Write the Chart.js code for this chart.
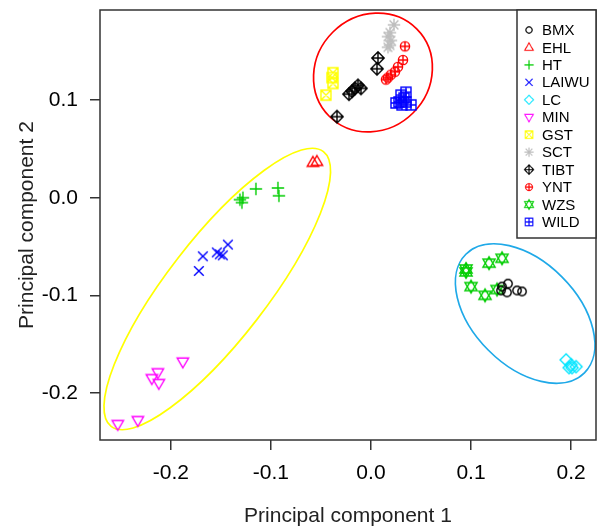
<!DOCTYPE html>
<html><head><meta charset="utf-8">
<script src="https://cdn.jsdelivr.net/npm/chart.js@4.4.0/dist/chart.umd.min.js"></script>
<style>html,body{margin:0;padding:0;background:#fff;}</style>
</head><body>
<canvas id="c" width="602" height="531"></canvas>
<script>
// ---- data ----
const xTicks = [-0.2, -0.1, 0.0, 0.1, 0.2];
const yTicks = [-0.2, -0.1, 0.0, 0.1];
const groups = ['BMX','EHL','HT','LAIWU','LC','MIN','GST','SCT','TIBT','YNT','WZS','WILD'];
const BMX   = [[0.131,-0.091],[0.137,-0.088],[0.136,-0.097],[0.146,-0.095],[0.151,-0.096],[0.130,-0.095]];
const EHL   = [[-0.058,0.036],[-0.054,0.037]];
const HT    = [[-0.131,-0.002],[-0.128,0.000],[-0.129,-0.005],[-0.115,0.009],[-0.093,0.010],[-0.092,0.002]];
const LAIWU = [[-0.143,-0.048],[-0.154,-0.056],[-0.151,-0.058],[-0.148,-0.059],[-0.168,-0.060],[-0.172,-0.075]];
const LC    = [[0.195,-0.166],[0.200,-0.171],[0.205,-0.173],[0.201,-0.174],[0.198,-0.174]];
const MIN   = [[-0.188,-0.168],[-0.213,-0.179],[-0.219,-0.185],[-0.212,-0.190],[-0.233,-0.228],[-0.253,-0.232]];
const GST   = [[-0.038,0.128],[-0.039,0.123],[-0.038,0.117],[-0.045,0.105]];
const SCT   = [[0.023,0.177],[0.019,0.169],[0.017,0.165],[0.020,0.161],[0.019,0.156],[0.017,0.154]];
const TIBT  = [[0.007,0.143],[0.006,0.132],[-0.013,0.115],[-0.016,0.112],[-0.019,0.109],[-0.022,0.106],[-0.034,0.083],[-0.010,0.112]];
const YNT   = [[0.034,0.155],[0.032,0.141],[0.027,0.134],[0.024,0.129],[0.020,0.126],[0.017,0.123],[0.015,0.121]];
const WZS   = [[0.095,-0.076],[0.095,-0.073],[0.118,-0.067],[0.131,-0.062],[0.100,-0.091],[0.114,-0.100],[0.126,-0.094]];
const WILD  = [[0.035,0.108],[0.030,0.105],[0.033,0.102],[0.028,0.098],[0.025,0.097],[0.035,0.098],[0.040,0.095],[0.031,0.095]];
const seriesValues = [BMX,EHL,HT,LAIWU,LC,MIN,GST,SCT,TIBT,YNT,WZS,WILD];

// ---- styles ----
const markerTypes = ['circle','triUp','plus','cross','diamond','triDown','boxX','aster','diamondPlus','circlePlus','star6','boxPlus'];
const markerColors = ['#000000','#FF0000','#00CD00','#0000FF','#00E5FF','#FF00FF','#FFFF00','#BEBEBE','#000000','#FF0000','#00CD00','#0000FF'];
const ellipseDefs = [
  {cx:0.002,  cy:0.1282,  a:0.0618, b:0.0569, angle:45,   color:'#FF0000'},
  {cx:0.1541, cy:-0.1186, a:0.0838, b:0.0519, angle:-45,  color:'#1FA9E8'},
  {cx:-0.1536,cy:-0.0935, a:0.1735, b:0.0500, angle:52.3, color:'#FFFF00'}
];

function marker(type, color){
  const s = 20, c = document.createElement('canvas');
  c.width = s; c.height = s;
  const g = c.getContext('2d');
  g.strokeStyle = color; g.lineWidth = 1.4; g.translate(s/2, s/2);
  g.beginPath();
  const plus = r => { g.moveTo(-r,0); g.lineTo(r,0); g.moveTo(0,-r); g.lineTo(0,r); };
  const cross = r => { g.moveTo(-r,-r); g.lineTo(r,r); g.moveTo(r,-r); g.lineTo(-r,r); };
  const circ = r => { g.moveTo(r,0); g.arc(0,0,r,0,2*Math.PI); };
  const tri = (r, dir) => { g.moveTo(0,-r*dir); g.lineTo(r*0.95,r*0.62*dir); g.lineTo(-r*0.95,r*0.62*dir); g.closePath(); };
  const dia = r => { g.moveTo(0,-r); g.lineTo(r,0); g.lineTo(0,r); g.lineTo(-r,0); g.closePath(); };
  const box = r => { g.rect(-r,-r,2*r,2*r); };
  switch(type){
    case 'circle': circ(4.2); break;
    case 'triUp': tri(6,1); break;
    case 'triDown': tri(6,-1); break;
    case 'plus': plus(6.2); break;
    case 'cross': cross(4.8); break;
    case 'diamond': dia(6); break;
    case 'boxX': box(5); cross(5); break;
    case 'aster': plus(6.2); cross(4.4); break;
    case 'diamondPlus': dia(6.2); plus(6.2); break;
    case 'circlePlus': circ(4.6); plus(4.6); break;
    case 'star6': tri(6.4,1); tri(6.4,-1); break;
    case 'boxPlus': box(5); plus(5); break;
  }
  g.stroke();
  return c;
}
const markerImgs = markerTypes.map((t,i)=>marker(t, markerColors[i]));

const ellipsePlugin = {
  id:'ellipses',
  beforeDatasetsDraw(chart){
    const {ctx, scales:{x,y}} = chart;
    const pxU = x.getPixelForValue(1) - x.getPixelForValue(0);
    ctx.save();
    ellipseDefs.forEach(e=>{
      ctx.beginPath();
      ctx.ellipse(x.getPixelForValue(e.cx), y.getPixelForValue(e.cy), e.a*pxU, e.b*pxU, -e.angle*Math.PI/180, 0, 2*Math.PI);
      ctx.strokeStyle = e.color; ctx.lineWidth = 1.7; ctx.stroke();
    });
    ctx.restore();
  }
};

const framePlugin = {
  id:'frame',
  afterDraw(chart){
    const {ctx, chartArea:ca} = chart;
    ctx.save();
    ctx.strokeStyle = '#333'; ctx.lineWidth = 1.5;
    ctx.strokeRect(ca.left, ca.top, ca.right-ca.left, ca.bottom-ca.top);
    // legend
    const lx = 517, ly = ca.top, lw = ca.right - 517, lh = 228;
    ctx.fillStyle = '#fff'; ctx.fillRect(lx, ly, lw, lh);
    ctx.strokeRect(lx, ly, lw, lh);
    ctx.font = "15px 'Liberation Sans', Arial, sans-serif";
    ctx.fillStyle = '#000'; ctx.textBaseline = 'middle'; ctx.textAlign = 'left';
    chart.data.datasets.forEach((ds,i)=>{
      const yy = ly + 20 + i*17.45;
      const im = ds.pointStyle, sc = 0.75;
      ctx.drawImage(im, 529 - im.width*sc/2, yy - im.height*sc/2, im.width*sc, im.height*sc);
      ctx.fillText(ds.label, 542, yy + 1);
    });
    ctx.restore();
  }
};

Chart.defaults.font.family = "'Liberation Sans', Arial, sans-serif";
Chart.defaults.color = '#000';

new Chart(document.getElementById('c'), {
  type:'scatter',
  data:{
    datasets: groups.map((g,i)=>({
      label:g,
      data: seriesValues[i].map(p=>({x:p[0], y:p[1]})),
      pointStyle: markerImgs[i],
      pointRadius: 5,
      showLine:false
    }))
  },
  options:{
    responsive:false, animation:false,
    layout:{padding:{top:10, right:5, left:0, bottom:0}},
    plugins:{legend:{display:false}, tooltip:{enabled:false}},
    scales:{
      x:{
        type:'linear', min:-0.2708, max:0.2249,
        afterBuildTicks(s){ s.ticks = xTicks.map(v=>({value:v})); },
        afterFit(s){ s.height = 91; s.paddingLeft = 0; s.paddingRight = 0; },
        grid:{display:true, drawOnChartArea:false, drawTicks:true, tickLength:10, color:'#333', lineWidth:1.5},
        border:{display:false},
        ticks:{font:{size:21}, padding:11, color:'#000', callback:v=>v.toFixed(1), maxRotation:0, autoSkip:false},
        title:{display:true, text:'Principal component 1', font:{size:21}, color:'#222', padding:{top:0,bottom:2}}
      },
      y:{
        type:'linear', min:-0.2481, max:0.1922,
        afterBuildTicks(s){ s.ticks = yTicks.map(v=>({value:v})); },
        afterFit(s){ s.width = 100; s.paddingTop = 0; s.paddingBottom = 0; },
        grid:{display:true, drawOnChartArea:false, drawTicks:true, tickLength:10, color:'#333', lineWidth:1.5},
        border:{display:false},
        ticks:{font:{size:21}, padding:12, color:'#000', callback:v=>v.toFixed(1), autoSkip:false},
        title:{display:true, text:'Principal component 2', font:{size:21}, color:'#222', padding:{top:15,bottom:0}}
      }
    }
  },
  plugins:[ellipsePlugin, framePlugin]
});
</script>
</body></html>
